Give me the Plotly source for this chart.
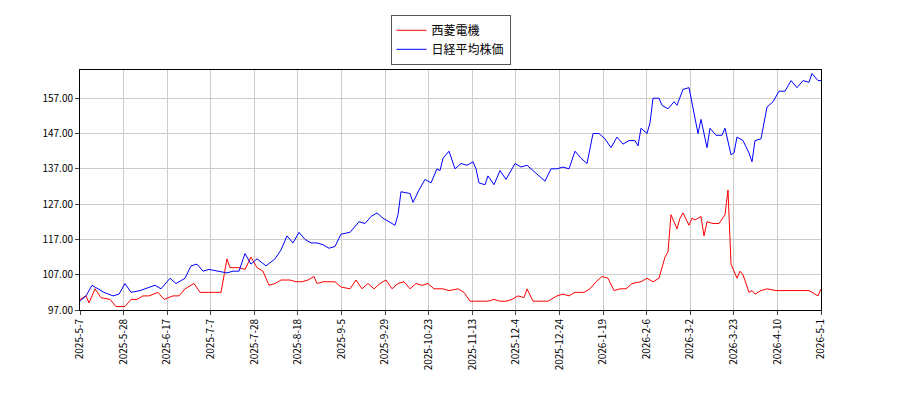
import plotly.graph_objects as go

tick_labels = ["2025-5-7","2025-5-28","2025-6-17","2025-7-7","2025-7-28","2025-8-18","2025-9-5","2025-9-29","2025-10-23","2025-11-13","2025-12-4","2025-12-24","2026-1-19","2026-2-6","2026-3-2","2026-3-23","2026-4-10","2026-5-1"]
n_days = 247

day_b = [0,2,4,6,8,11,13,15,17,20,23,25,27,30,32,35,37,39,41,43,46,49,51,53,55,57,59,62,65,67,69,71,73,75,77,79,81,83,85,87,90,93,95,97,99,101,103,105,106,107,110,111,113,115,117,119,120,121,123,125,127,129,131,132,133,135,136,138,140,142,145,147,149,151,153,155,157,159,161,163,165,167,169,171,173,175,177,179,181,183,185,186,187,189,190,191,193,194,196,198,199,201,203,204,206,207,209,210,212,214,215,217,218,219,221,223,224,225,227,229,231,233,235,237,239,241,243,244,246,247]
nikkei = [99.5,101,104,103,102,101,101.5,104.5,102,102.5,103.5,104,103,106,104.5,106,109.5,110,108,108.5,108,107.5,108,108,113,110,111.5,109.5,111.5,114,118,116,119,117,116,116,115.5,114.5,115,118.5,119,122,121.5,123.5,124.5,123,122,121,124,130.5,130,127.5,131,134,133,137,136.5,140,142,137,138.5,138,139,137,133,132.5,135,132.5,136.5,134,138.5,137.5,138,136.5,135,133.5,137,137,137.5,137,142,140,138.5,147,147,145.5,143,146,144,145,145,143.5,148.5,147,150,157,157,155,154,156,155,159.5,160,156,147,151,143,148.5,146.5,146.5,148.5,141,141.5,146,145,141.5,139,145,145.5,154.5,156,159,159,162,160,162,161.5,164,162,162]

day_r = [0,2,3,5,7,10,12,15,17,19,21,23,26,28,31,33,35,38,40,43,45,47,49,50,53,55,57,59,61,63,65,67,70,72,74,76,78,79,81,83,85,87,90,92,94,96,98,100,102,104,106,108,110,112,114,116,118,121,123,126,128,130,132,134,136,138,140,142,144,146,148,149,151,153,156,159,161,163,165,168,170,172,174,176,178,180,182,184,187,189,191,193,195,196,197,199,200,201,203,204,205,207,208,209,211,213,215,216,217,219,220,221,223,224,225,227,229,232,235,237,240,243,244,246,247]
seiryo = [100,101,99,103,100.5,100,98,98,100,100,101,101,102,100,101,101,103,104.5,102,102,102,102,111.5,109,109,108.5,112,109,108,104,104.5,105.5,105.5,105,105,105.5,106.5,104.5,105,105,105,103.5,103,105.5,103,104.5,103,104.5,105.5,103,104.5,105,103,104.5,104,104.5,103,103,102.5,103,102,99.5,99.5,99.5,99.5,100,99.5,99.5,100,101,100.5,103,99.5,99.5,99.5,101,101.5,101,102,102,103,105,106.5,106,102.5,103,103,104.5,105,106,105,106,112,113.5,124,120,123,124.5,121,123,122.5,123.5,118,122,121.5,121.5,124,131,110,106,108,107,102,102.5,101.5,102.5,103,102.5,102.5,102.5,102.5,102.5,102,101,103]

tickvals = [i * n_days / (len(tick_labels) - 1) for i in range(len(tick_labels))]

fig = go.Figure()
fig.add_trace(go.Scatter(x=day_r, y=seiryo, mode="lines", name="西菱電機", line=dict(color="#ff0000", width=1)))
fig.add_trace(go.Scatter(x=day_b, y=nikkei, mode="lines", name="日経平均株価", line=dict(color="#0000ff", width=1)))
fig.update_layout(
    width=900, height=400, margin=dict(l=72, r=87, t=62, b=98, autoexpand=False),
    paper_bgcolor="white", plot_bgcolor="white",
    font=dict(family="Noto Sans CJK JP, DejaVu Sans", size=11, color="black"),
    legend=dict(x=0.5, xanchor="center", y=1.23, yanchor="top", bordercolor="#555", borderwidth=1, font=dict(size=12)),
    showlegend=True,
)
fig.update_xaxes(range=[0, n_days], tickvals=tickvals, ticktext=tick_labels, tickangle=-90,
                 showgrid=True, gridcolor="#cccccc", showline=True, linecolor="black", mirror=True,
                 ticks="outside", ticklen=4, tickfont=dict(size=10), automargin=False)
fig.update_yaxes(range=[97, 165], tickvals=[97,107,117,127,137,147,157], tickformat=".2f",
                 showgrid=True, gridcolor="#cccccc", showline=True, linecolor="black", mirror=True,
                 ticks="outside", ticklen=4, tickfont=dict(size=10), zeroline=False, automargin=False)
fig.write_html("out.html")
